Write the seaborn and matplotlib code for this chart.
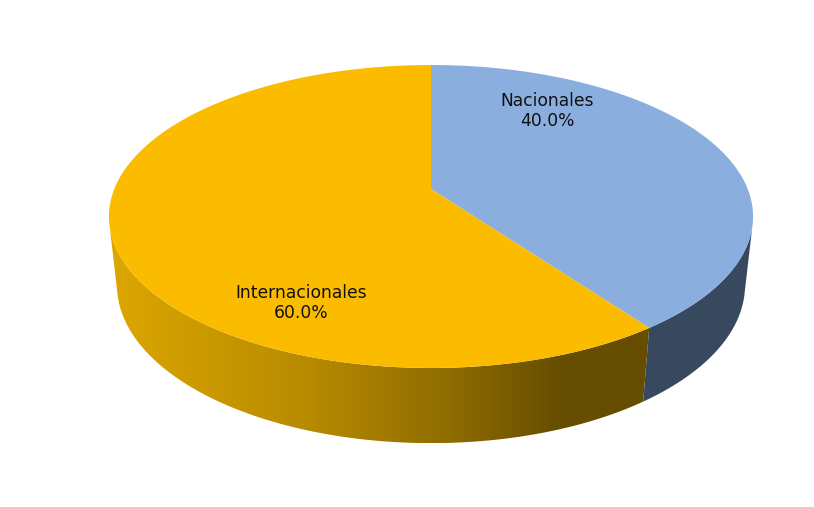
# 3D looking pie, seaborn only gives the theme and palette here so the slices are drawn by hand
import numpy as np
import seaborn as sns
import matplotlib.pyplot as plt
from matplotlib.colors import to_rgb
from matplotlib.patches import Polygon

labels = ['Nacionales', 'Internacionales']
shares = [40.0, 60.0]
top_colors = ['#8AAFDF', '#FBBC00']

sns.set_theme(style='white')
palette = sns.color_palette(top_colors)

W, H = 814, 507
CX = 431

# circle (u, v) to picture with a perspective divide, top and bottom plane of the pie
def project(theta, a, b, y0, k):
    u = np.sin(theta)
    v = np.cos(theta)
    d = 1 + k * v
    return CX + a * u / d, y0 - b * v / d

TOP = dict(a=316.7, b=146.5, y0=189, k=0.1815)
BOTTOM = dict(a=309.0, b=153.0, y0=257, k=0.178)

fig = plt.figure(figsize=(W / 100, H / 100), dpi=100)
ax = fig.add_axes([0, 0, 1, 1])

# where the slices start and stop, clockwise from 12 o'clock
edges = 2 * np.pi * np.cumsum([0] + shares) / sum(shares)

# side wall with a left to right gradient, clipped to the band between both planes
def side_wall(t0, t1, stops):
    th = np.linspace(t0, t1, 300)
    x1, y1 = project(th, **TOP)
    x2, y2 = project(th, **BOTTOM)
    pts = np.column_stack([np.r_[x1, x2[::-1]], np.r_[y1, y2[::-1]]])
    xs = [s[0] for s in stops]
    grad_x = np.linspace(pts[:, 0].min(), pts[:, 0].max(), 400)
    rgb = [np.interp(grad_x, xs, [to_rgb(s[1])[i] for s in stops]) for i in range(3)]
    img = np.dstack(rgb)
    im = ax.imshow(img, extent=[grad_x[0], grad_x[-1], pts[:, 1].max(), pts[:, 1].min()], aspect='auto', zorder=1)
    clip = Polygon(pts, closed=True, transform=ax.transData, fc='none', ec='none')
    ax.add_patch(clip)
    im.set_clip_path(clip)

side_wall(edges[1], np.pi * 0.57, [(645, '#38495F'), (750, '#38495F')])
side_wall(edges[1], 1.43 * np.pi, [(109, '#DDA700'), (300, '#B98C00'), (450, '#8F6C00'), (560, '#664D00'), (650, '#664D00')])

# top face
for i in range(2):
    th = np.linspace(edges[i], edges[i + 1], 300)
    x, y = project(th, **TOP)
    ax.fill(np.r_[CX, x], np.r_[TOP['y0'], y], color=palette[i], lw=0, zorder=2)

ax.text(547, 111, f'{labels[0]}\n{shares[0]:.1f}%', ha='center', va='center', fontsize=12.3, family='DejaVu Sans', color='#111111', zorder=3, linespacing=1.2)
ax.text(301, 303, f'{labels[1]}\n{shares[1]:.1f}%', ha='center', va='center', fontsize=12.3, family='DejaVu Sans', color='#111111', zorder=3, linespacing=1.2)

ax.set_xlim(0, W)
ax.set_ylim(H, 0)
ax.axis('off')

fig.savefig('out.png', dpi=100)
